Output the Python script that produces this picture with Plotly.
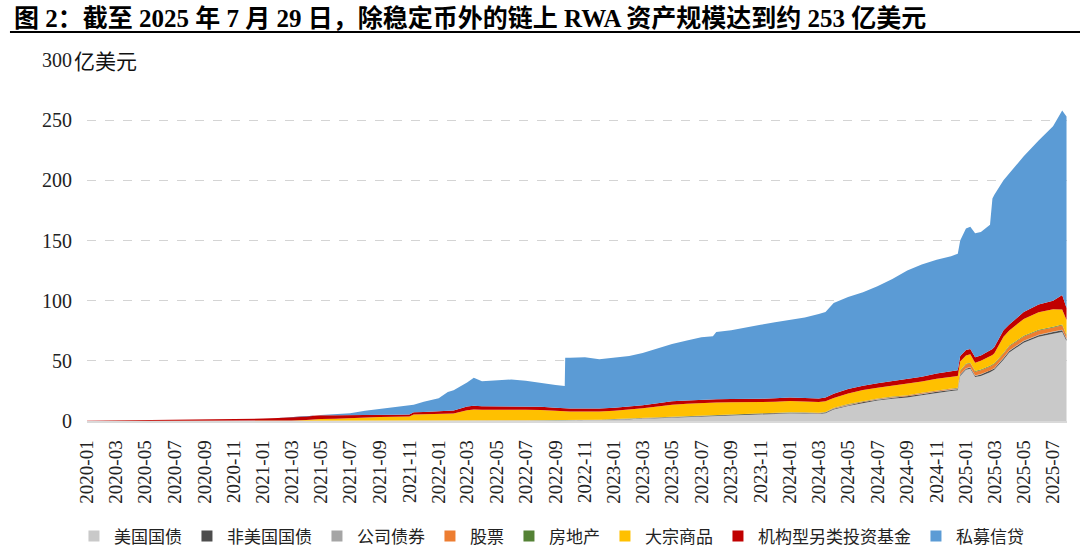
import plotly.graph_objects as go

# ---------------- data (亿美元) ----------------
dates = [
    "2020-01-01", "2020-02-01", "2020-03-01", "2020-04-01", "2020-05-01", "2020-06-01",
    "2020-07-01", "2020-08-01", "2020-09-01", "2020-10-01", "2020-11-01", "2020-12-01",
    "2021-01-01", "2021-02-01", "2021-03-01", "2021-04-01", "2021-05-01", "2021-06-01",
    "2021-07-01", "2021-08-01", "2021-09-01", "2021-10-01", "2021-11-01", "2021-11-10", "2021-12-01",
    "2022-01-01", "2022-01-20", "2022-02-01", "2022-03-01", "2022-03-15", "2022-04-01",
    "2022-05-01", "2022-06-01", "2022-07-01", "2022-08-01", "2022-09-01", "2022-09-20",
    "2022-09-21", "2022-10-01", "2022-11-01", "2022-12-01",
    "2023-01-01", "2023-02-01", "2023-03-01", "2023-04-01", "2023-05-01", "2023-06-01",
    "2023-07-01", "2023-07-25", "2023-08-01", "2023-09-01", "2023-10-01", "2023-11-01", "2023-12-01",
    "2024-01-01", "2024-02-01", "2024-03-01", "2024-03-15", "2024-04-01", "2024-05-01",
    "2024-06-01", "2024-07-01", "2024-08-01", "2024-09-01", "2024-10-01", "2024-11-01",
    "2024-12-01", "2024-12-15", "2024-12-20",
    "2025-01-01", "2025-01-10", "2025-01-20", "2025-02-01", "2025-02-20", "2025-02-25",
    "2025-03-01", "2025-03-20", "2025-04-01", "2025-05-01", "2025-06-01", "2025-07-01",
    "2025-07-20", "2025-07-29",
]

us_treasury = [
    0, 0, 0, 0, 0, 0, 0, 0, 0, 0, 0, 0,
    0, 0, 0, 0, 0, 0, 0.1, 0.1, 0.1, 0.1, 0.1, 0.1, 0.1,
    0.2, 0.2, 0.2, 0.3, 0.3, 0.3, 0.4, 0.4, 0.5, 0.5, 0.6, 0.6, 0.6, 0.7, 0.8, 0.9,
    1.0, 1.3, 1.8, 2.3, 2.8, 3.3, 3.6, 4.0, 4.2, 4.8, 5.2, 5.8, 6.0,
    6.3, 6.2, 5.8, 6.5, 9.5, 12.5, 15.0, 17.0, 18.5, 19.5, 21.5, 23.5, 25.0, 25.5, 37.5,
    42.5, 43.5, 36.5, 37.5, 40.5, 41.5, 42.5, 51.0, 57.0, 65.0, 70.0, 72.5, 74.0, 66.5,
]
non_us_treasury = [
    0, 0, 0, 0, 0, 0, 0, 0, 0, 0, 0, 0,
    0, 0, 0, 0, 0, 0, 0, 0, 0, 0, 0, 0, 0,
    0, 0, 0, 0, 0, 0, 0, 0, 0, 0, 0, 0, 0, 0, 0, 0,
    0.2, 0.2, 0.2, 0.3, 0.3, 0.3, 0.3, 0.3, 0.3, 0.4, 0.4, 0.4, 0.4,
    0.5, 0.5, 0.5, 0.5, 0.6, 0.6, 0.7, 0.7, 0.8, 0.8, 0.8, 0.9, 0.9, 0.9, 1.0,
    1.0, 1.0, 1.0, 1.1, 1.1, 1.1, 1.1, 1.2, 1.2, 1.3, 1.3, 1.4, 1.4, 1.4,
]
corporate_bonds = [
    0, 0, 0, 0, 0, 0, 0, 0, 0, 0, 0, 0,
    0, 0, 0, 0, 0, 0, 0.1, 0.1, 0.1, 0.1, 0.1, 0.1, 0.1,
    0.1, 0.1, 0.1, 0.1, 0.1, 0.1, 0.1, 0.1, 0.1, 0.1, 0.1, 0.1, 0.1, 0.1, 0.1, 0.1,
    0.2, 0.2, 0.2, 0.2, 0.2, 0.2, 0.2, 0.2, 0.2, 0.2, 0.2, 0.2, 0.2,
    0.2, 0.2, 0.2, 0.2, 0.3, 0.3, 0.3, 0.3, 0.3, 0.3, 0.3, 0.3, 0.3, 0.3, 0.4,
    0.4, 0.4, 0.4, 0.4, 0.4, 0.4, 0.4, 0.4, 0.4, 0.4, 0.4, 0.4, 0.4, 0.4,
]
equities = [
    0, 0, 0, 0, 0, 0, 0, 0, 0, 0, 0, 0,
    0, 0, 0, 0, 0, 0, 0, 0, 0, 0, 0, 0, 0,
    0, 0, 0, 0, 0, 0, 0, 0, 0, 0, 0, 0, 0, 0, 0, 0,
    0.1, 0.1, 0.1, 0.1, 0.1, 0.1, 0.1, 0.1, 0.1, 0.1, 0.1, 0.1, 0.1,
    0.1, 0.1, 0.1, 0.1, 0.4, 0.4, 0.4, 0.4, 0.4, 0.6, 0.6, 0.6, 0.6, 0.6, 2.5,
    3.0, 3.0, 3.0, 3.2, 3.3, 3.3, 3.3, 3.3, 3.5, 3.5, 3.5, 3.5, 3.8, 2.5,
]
real_estate = [
    0, 0, 0, 0, 0, 0, 0, 0, 0, 0, 0, 0,
    0, 0, 0, 0, 0.1, 0.1, 0.1, 0.1, 0.1, 0.1, 0.1, 0.1, 0.1,
    0.1, 0.1, 0.1, 0.1, 0.1, 0.1, 0.1, 0.1, 0.1, 0.1, 0.1, 0.1, 0.1, 0.1, 0.1, 0.1,
    0.2, 0.2, 0.2, 0.2, 0.2, 0.2, 0.2, 0.2, 0.2, 0.2, 0.2, 0.2, 0.2,
    0.2, 0.2, 0.2, 0.2, 0.3, 0.3, 0.3, 0.3, 0.3, 0.3, 0.3, 0.3, 0.3, 0.3, 0.6,
    0.6, 0.6, 0.6, 0.6, 0.6, 0.6, 0.6, 0.6, 0.6, 0.6, 0.6, 0.6, 0.6, 0.6,
]
commodities = [
    0, 0, 0, 0, 0, 0, 0, 0, 0, 0, 0, 0,
    0, 0, 0.5, 0.8, 1.6, 1.8, 2.2, 2.6, 3.0, 3.2, 3.4, 5.0, 5.2,
    5.4, 5.5, 5.8, 8.5, 9.0, 8.8, 8.9, 8.7, 8.6, 8.4, 7.6, 7.2, 7.2, 7.0, 6.9, 6.8,
    6.9, 7.4, 8.0, 9.0, 10.0, 10.2, 10.5, 10.5, 10.3, 9.8, 9.3, 9.0, 9.2,
    9.3, 9.0, 9.0, 9.0, 8.0, 8.8, 9.0, 9.0, 9.2, 9.3, 9.3, 9.5, 9.6, 9.8, 7.5,
    7.0, 7.0, 7.0, 7.2, 7.8, 8.0, 8.3, 13.5, 12.5, 14.0, 14.5, 14.5, 12.5, 12.5,
]
alt_funds = [
    0.3, 0.4, 0.5, 0.6, 0.7, 0.8, 0.9, 1.0, 1.1, 1.3, 1.5, 1.7,
    2.0, 2.4, 2.5, 2.7, 3.0, 2.8, 2.2, 1.8, 1.6, 1.6, 1.7, 1.9, 2.0,
    2.2, 2.3, 2.5, 3.0, 3.2, 3.0, 2.8, 2.8, 2.7, 2.7, 2.6, 2.5, 2.5, 2.5, 2.5, 2.5,
    2.5, 2.6, 2.6, 2.7, 2.8, 2.8, 2.8, 2.8, 2.8, 2.8, 2.8, 2.8, 2.9,
    2.9, 3.0, 3.0, 3.0, 3.5, 3.6, 3.6, 3.6, 3.7, 3.8, 4.0, 4.3, 4.5, 4.7, 4.5,
    4.4, 4.4, 4.4, 4.5, 4.8, 5.0, 5.2, 5.4, 5.0, 5.8, 6.5, 7.0, 12.0, 10.0,
]
private_credit = [
    0, 0, 0, 0, 0, 0, 0, 0, 0, 0, 0, 0,
    0, 0, 0, 0, 0.3, 1.1, 1.8, 3.8, 5.1, 6.4, 7.6, 6.3, 8.5,
    11.0, 15.8, 16.8, 20.0, 23.3, 20.7, 21.7, 22.4, 21.5, 19.7, 19.0, 18.5, 42.0, 42.1, 42.6, 40.9,
    41.4, 42.0, 43.4, 45.7, 47.6, 49.9, 51.8, 52.4, 55.9, 57.2, 59.8, 61.5, 63.0,
    64.5, 66.8, 70.2, 71.0, 75.4, 76.5, 77.7, 80.7, 84.8, 90.4, 93.2, 94.6, 95.8, 96.9, 96.0,
    101.1, 101.6, 103.1, 102.5, 104.5, 125.1, 126.6, 124.6, 125.8, 129.4, 136.2, 145.1, 153.3, 159.1,
]

series_names = ["美国国债", "非美国国债", "公司债券", "股票", "房地产", "大宗商品", "机构型另类投资基金", "私募信贷"]
series_values = [us_treasury, non_us_treasury, corporate_bonds, equities, real_estate,
                 commodities, alt_funds, private_credit]
series_colors = ["#c9c9c9", "#4d4d4d", "#a5a5a5", "#ed7d31", "#548235", "#ffc000", "#c00000", "#5b9bd5"]

y_ticks = [0, 50, 100, 150, 200, 250, 300]
title_text = "<b>图 2：截至 2025 年 7 月 29 日，除稳定币外的链上 RWA 资产规模达到约 253 亿美元</b>"
unit_text = "亿美元"

SERIF = "Liberation Serif, Noto Sans CJK SC, serif"
CJK = "Noto Sans CJK SC, sans-serif"

fig = go.Figure()
for name, vals, col in zip(series_names, series_values, series_colors):
    fig.add_trace(go.Scatter(
        x=dates, y=vals, name=name, mode="lines", stackgroup="one",
        line=dict(width=0, color=col), fillcolor=col, showlegend=False,
        hovertemplate="%{x}<br>" + name + ": %{y}<extra></extra>",
    ))
# legend entries (square swatches)
for name, col in zip(series_names, series_colors):
    fig.add_trace(go.Scatter(
        x=[None], y=[None], name=name, mode="markers",
        marker=dict(symbol="square", size=11, color=col), showlegend=True,
    ))

fig.update_layout(
    width=1080, height=555,
    margin=dict(l=87, r=13, t=60, b=134, autoexpand=False),
    plot_bgcolor="white", paper_bgcolor="white",
    font=dict(family=SERIF, color="#222222"),
    legend=dict(
        orientation="h", x=-0.0133, xanchor="left", y=-0.32, yanchor="middle",
        font=dict(family=CJK, size=17, color="#222222"),
        itemwidth=30, traceorder="normal", bgcolor="rgba(0,0,0,0)",
    ),
    xaxis=dict(
        type="date", range=["2020-01-01", "2025-07-30"],
        tick0="2020-01-01", dtick="M2", tickformat="%Y-%m", tickangle=-90,
        tickfont=dict(family=SERIF, size=19, color="#222222"),
        showgrid=False, showline=True, linecolor="#d9d9d9", linewidth=1.5,
        ticks="", ticklabelstandoff=10, zeroline=False, automargin=False,
    ),
    yaxis=dict(
        range=[0, 300], tickvals=y_ticks,
        tickfont=dict(family=SERIF, size=20, color="#222222"),
        showgrid=True, gridcolor="#d4d4d4", griddash="dash", gridwidth=1,
        showline=False, zeroline=False, ticks="", ticklabelstandoff=14, automargin=False,
    ),
    annotations=[
        dict(text=title_text, xref="paper", yref="paper", x=-0.0765, y=1.116,
             xanchor="left", yanchor="middle", showarrow=False,
             font=dict(family=SERIF, size=25, color="#000000")),
        dict(text=unit_text, xref="paper", yref="paper", x=-0.0153, y=1.0,
             xanchor="left", yanchor="middle", showarrow=False, bgcolor="white",
             font=dict(family=CJK, size=21, color="#111111")),
    ],
    shapes=[
        dict(type="line", xref="paper", yref="paper", x0=-0.0786, x1=1.0133,
             y0=1.0776, y1=1.0776, line=dict(color="#000000", width=2)),
    ],
)

fig.write_html("out.html")
